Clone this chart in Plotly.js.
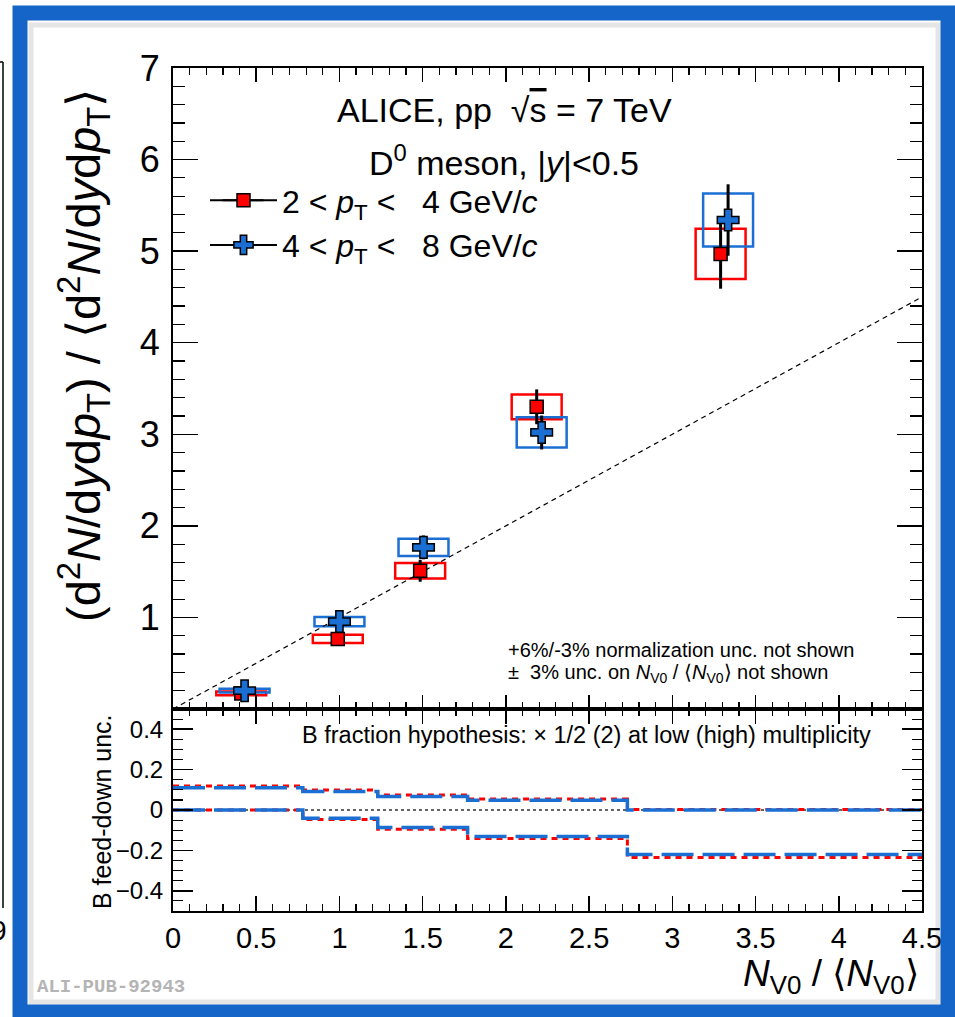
<!DOCTYPE html>
<html><head><meta charset="utf-8">
<script src="https://cdn.plot.ly/plotly-3.0.1.min.js"></script>
<style>html,body{margin:0;padding:0;background:#fff;} #chart{width:955px;height:1017px;}</style>
</head><body><div id="chart"></div>
<script>
// ---- data ----
const xRed = [0.41, 0.99, 1.485, 2.185, 3.29];
const yRed = [0.17, 0.765, 1.51, 3.30, 4.97];
const statRed = [0.02, 0.04, 0.12, 0.19, 0.38];
const sysRed = [0.02, 0.045, 0.085, 0.135, 0.275];

const xBlue = [0.43, 1.00, 1.505, 2.215, 3.335];
const yBlue = [0.20, 0.955, 1.765, 3.02, 5.34];
const statBlue = [0.02, 0.05, 0.13, 0.185, 0.39];
const sysBlue = [0.02, 0.05, 0.095, 0.165, 0.29];
const sysHalfWidth = 0.15;

const binEdges = [0, 0.78, 1.23, 1.77, 2.73, 4.5];
const fdUpBlue = [0.11, 0.092, 0.067, 0.048, 0.0];
const fdUpRed = [0.119, 0.099, 0.074, 0.055, 0.002];
const fdLowBlue = [0, -0.041, -0.087, -0.131, -0.22];
const fdLowRed = [0, -0.047, -0.095, -0.141, -0.235];

const diagX = [0, 4.5];
const diagY = [0, 4.5];
const zeroX = [0, 4.5];
const zeroY = [0, 0];

const yTicksTop = [1, 2, 3, 4, 5, 6, 7];
const yTicksBot = [-0.4, -0.2, 0, 0.2, 0.4];
const yTickTextBot = ['\u22120.4', '\u22120.2', '0', '0.2', '0.4'];
const xTicks = [0, 0.5, 1, 1.5, 2, 2.5, 3, 3.5, 4, 4.5];
const xTickText = ['0', '0.5', '1', '1.5', '2', '2.5', '3', '3.5', '4', '4.5'];

// ---- styling ----
const RED = '#ff0000';
const BLUE = '#1b6fd3';
const FONT = 'Liberation Sans, Arial, Helvetica, sans-serif';

// pixel -> paper helpers (plot area 173..922 x 68..911)
const L = 173, R = 922, T = 68, B = 911;
const px = X => (X - L) / (R - L);
const py = Y => (B - Y) / (B - T);

function stepY(v) { return v.concat([v[v.length - 1]]); }

const traces = [];
// reference y = x line
traces.push({x: diagX, y: diagY, xaxis: 'x', yaxis: 'y', mode: 'lines',
  line: {color: '#000', width: 1.2, dash: '5px,4px'}, showlegend: false, hoverinfo: 'skip'});

traces.push({x: xRed, y: yRed, xaxis: 'x', yaxis: 'y', mode: 'markers', showlegend: false,
  marker: {symbol: 'square', size: 13, color: RED, line: {color: '#000', width: 1.5}},
  error_y: {type: 'data', array: statRed, color: '#000', thickness: 3, width: 0}});
traces.push({x: xBlue, y: yBlue, xaxis: 'x', yaxis: 'y', mode: 'markers', showlegend: false,
  marker: {symbol: 'cross', size: 18, color: BLUE, line: {color: '#000', width: 1.5}},
  error_y: {type: 'data', array: statBlue, color: '#000', thickness: 3, width: 0}});

// legend entries
traces.push({x: [null], y: [null], xaxis: 'x', yaxis: 'y', mode: 'lines+markers',
  name: '2\u00a0&lt;\u00a0<i>p</i><sub>T</sub>\u00a0&lt;\u00a0\u00a0 4 GeV/<i>c</i>',
  line: {color: '#000', width: 2},
  marker: {symbol: 'square', size: 13, color: RED, line: {color: '#000', width: 1.5}}});
traces.push({x: [null], y: [null], xaxis: 'x', yaxis: 'y', mode: 'lines+markers',
  name: '4\u00a0&lt;\u00a0<i>p</i><sub>T</sub>\u00a0&lt;\u00a0\u00a0 8 GeV/<i>c</i>',
  line: {color: '#000', width: 2},
  marker: {symbol: 'cross', size: 18, color: BLUE, line: {color: '#000', width: 1.5}}});

// lower panel
traces.push({x: zeroX, y: zeroY, xaxis: 'x2', yaxis: 'y2', mode: 'lines', showlegend: false,
  line: {color: '#333', width: 1.5, dash: '3px,3px'}, hoverinfo: 'skip'});
[[fdUpRed, RED, '6px,5px', 3], [fdLowRed, RED, '6px,5px', 3],
 [fdUpBlue, BLUE, '32px,9px', 3.5], [fdLowBlue, BLUE, '32px,9px', 3.5]].forEach(([v, c, d, w]) => {
  traces.push({x: binEdges, y: stepY(v), xaxis: 'x2', yaxis: 'y2', mode: 'lines', showlegend: false,
    line: {color: c, width: w, dash: d, shape: 'hv'}, hoverinfo: 'skip'});
});

// systematic boxes
const shapes = [];
function boxes(xs, ys, sy, col) {
  xs.forEach((xv, i) => {
    shapes.push({type: 'rect', xref: 'x', yref: 'y', layer: 'below',
      x0: xv - sysHalfWidth, x1: xv + sysHalfWidth, y0: ys[i] - sy[i], y1: ys[i] + sy[i],
      line: {color: col, width: 2.5}, fillcolor: 'rgba(0,0,0,0)'});
  });
}
boxes(xRed, yRed, sysRed, RED);
boxes(xBlue, yBlue, sysBlue, BLUE);

// decorative frame + cropped neighbour chart edge
shapes.push({type: 'rect', xref: 'paper', yref: 'paper', x0: px(31), x1: px(938), y0: py(25), y1: py(1002),
  line: {color: 'rgba(0,0,0,0.10)', width: 5}});
shapes.push({type: 'rect', xref: 'paper', yref: 'paper', x0: px(20), x1: px(948), y0: py(13), y1: py(1012),
  line: {color: '#1565c8', width: 15}});
shapes.push({type: 'line', xref: 'paper', yref: 'paper', x0: px(3), x1: px(3), y0: py(62), y1: py(908),
  line: {color: '#000', width: 1.5}});
shapes.push({type: 'line', xref: 'paper', yref: 'paper', x0: px(0), x1: px(3), y0: py(62), y1: py(62),
  line: {color: '#000', width: 1.5}});

const ann = (text, X, Y, size, opts) => Object.assign({text, xref: 'paper', yref: 'paper',
  x: px(X), y: py(Y), showarrow: false, font: {family: FONT, size, color: '#000'},
  xanchor: 'center', yanchor: 'middle'}, opts || {});

const annotations = [
  ann('ALICE, pp\u00a0 \u221a<span style="text-decoration:overline">s</span> = 7 TeV', 504, 110, 34),
  ann('D<sup>0</sup> meson, |<i>y</i>|&lt;0.5', 504, 160, 34),
  ann('+6%/-3% normalization unc. not shown', 506, 650, 20, {xanchor: 'left'}),
  ann('\u00b1\u00a0 3% unc. on <i>N</i><sub>V0</sub> / \u27e8<i>N</i><sub>V0</sub>\u27e9 not shown', 506, 673, 20, {xanchor: 'left'}),
  ann('B fraction hypothesis: \u00d7 1/2 (2) at low (high) multiplicity', 300, 735, 23.5, {xanchor: 'left'}),
  ann('(d<sup>2</sup><i>N</i>/d<i>y</i>d<i>p</i><sub>T</sub>) / \u27e8d<sup>2</sup><i>N</i>/d<i>y</i>d<i>p</i><sub>T</sub>\u27e9',
      83, 356, 47, {textangle: -90}),
  ann('B feed-down unc.', 102, 812, 25, {textangle: -90}),
  ann('<i>N</i><sub>V0</sub> / \u27e8<i>N</i><sub>V0</sub>\u27e9', 921, 976, 37, {xanchor: 'right'}),
  ann('<b>ALI-PUB-92943</b>', 35, 987, 19, {xanchor: 'left',
      font: {family: 'Liberation Mono, Courier New, monospace', size: 19, color: '#b4b4b4'}}),
  ann('9', 9, 930, 28, {xanchor: 'right'})
];

const axCommon = {showgrid: false, zeroline: false, showline: true, linecolor: '#000', linewidth: 2,
  ticks: 'inside', tickcolor: '#000', tickwidth: 1.5, mirror: 'ticks', tickfont: {family: FONT, color: '#000'}};

const layout = {
  width: 955, height: 1017,
  margin: {l: L, r: 955 - R, t: T, b: 1017 - B},
  paper_bgcolor: '#fff', plot_bgcolor: 'rgba(0,0,0,0)',
  showlegend: true,
  legend: {x: px(205), y: py(173), xanchor: 'left', yanchor: 'top', bgcolor: 'rgba(0,0,0,0)',
    font: {family: FONT, size: 32, color: '#000'}, itemwidth: 67, tracegroupgap: 0},
  xaxis: Object.assign({}, axCommon, {anchor: 'y', range: [0, 4.5], tickvals: xTicks, ticklen: 14,
    showticklabels: false, minor: {dtick: 0.1, tick0: 0, ticklen: 7, ticks: 'inside', tickcolor: '#000', tickwidth: 1.2}}),
  yaxis: Object.assign({}, axCommon, {domain: [0.2396, 1], anchor: 'x', range: [0, 7], tickvals: yTicksTop,
    ticklen: 25, tickfont: {family: FONT, size: 36, color: '#000'}, ticklabelstandoff: 4,
    minor: {dtick: 0.2, tick0: 0, ticklen: 12, ticks: 'inside', tickcolor: '#000', tickwidth: 1.2}}),
  xaxis2: Object.assign({}, axCommon, {anchor: 'y2', matches: 'x', range: [0, 4.5], tickvals: xTicks,
    ticktext: xTickText, ticklen: 15, tickfont: {family: FONT, size: 29, color: '#000'},
    minor: {dtick: 0.1, tick0: 0, ticklen: 7, ticks: 'inside', tickcolor: '#000', tickwidth: 1.2}}),
  yaxis2: Object.assign({}, axCommon, {domain: [0, 0.2396], anchor: 'x2', range: [-0.5, 0.5],
    tickvals: yTicksBot, ticktext: yTickTextBot, ticklen: 20, tickfont: {family: FONT, size: 24, color: '#000'},
    ticklabelstandoff: 3,
    minor: {dtick: 0.05, tick0: 0, ticklen: 10, ticks: 'inside', tickcolor: '#000', tickwidth: 1.2}}),
  shapes, annotations
};

Plotly.newPlot('chart', traces, layout, {displayModeBar: false, staticPlot: true}).then(gd => {
  // extend legend symbol lines to the reference length (same row positions as the legend items)
  const rows = gd.querySelectorAll('.legend .traces');
  const lr = gd.getBoundingClientRect();
  const extra = [];
  rows.forEach(r => {
    const m = r.querySelector('.legendpoints path.scatterpts');
    if (!m) return;
    const bb = m.getBoundingClientRect();
    const cy = bb.top + bb.height / 2 - lr.top, cx = bb.left + bb.width / 2 - lr.left;
    extra.push({type: 'line', xref: 'paper', yref: 'paper', x0: px(cx - 21), x1: px(cx + 20),
      y0: py(cy), y1: py(cy), line: {color: '#000', width: 2}});
  });
  if (extra.length) Plotly.relayout(gd, {shapes: shapes.concat(extra)});
});
</script></body></html>
